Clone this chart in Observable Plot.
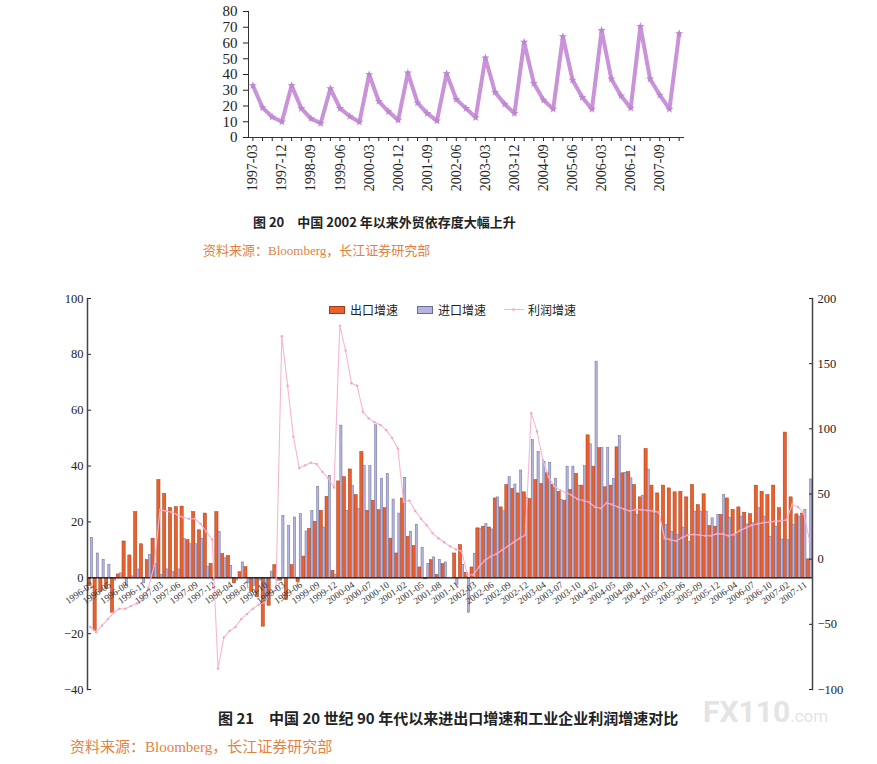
<!DOCTYPE html>
<html><head><meta charset="utf-8">
<script src="https://cdn.jsdelivr.net/npm/d3@7"></script>
<script src="https://cdn.jsdelivr.net/npm/@observablehq/plot@0.6"></script>
<style>
body{margin:0;background:#fff;width:877px;height:764px;position:relative;overflow:hidden;font-family:"Liberation Serif","Noto Sans CJK SC",serif;}
#top{position:absolute;left:0;top:0;}
#bottom{position:absolute;left:0;top:285px;}
.cap{position:absolute;font-family:"Noto Sans CJK SC",sans-serif;font-weight:bold;color:#222;white-space:nowrap;line-height:1;}
.src{position:absolute;color:#e3823f;white-space:nowrap;line-height:1;font-family:"Liberation Serif","Noto Sans CJK SC",serif;}
.leg{position:absolute;top:303px;font-family:"Noto Sans CJK SC",sans-serif;font-size:12px;line-height:14px;color:#222;white-space:nowrap;}
.sw{position:absolute;top:306px;width:16px;height:8px;box-sizing:border-box;}
.wm{position:absolute;color:#e4e4e4;font-family:Roboto,sans-serif;font-weight:bold;white-space:nowrap;line-height:1;}
</style></head><body>
<div id="top"></div>
<div class="cap" style="left:253px;top:215px;font-size:13px">图 20　中国 2002 年以来外贸依存度大幅上升</div>
<div class="src" style="left:203px;top:244px;font-size:13px">资料来源：Bloomberg，长江证券研究部</div>
<div id="bottom"></div>
<div class="sw" style="left:329px;background:#ee5f2b;border:1px solid #9c3f18"></div>
<div class="leg" style="left:350px">出口增速</div>
<div class="sw" style="left:417px;background:#b4b4de;border:1px solid #6c6c98"></div>
<div class="leg" style="left:438px">进口增速</div>
<div style="position:absolute;left:504px;top:309px;width:20px;height:1.2px;background:#f7b6d2"></div>
<div style="position:absolute;left:512px;top:308px;width:3px;height:3px;border-radius:2px;background:#f7b6d2"></div>
<div class="leg" style="left:528px">利润增速</div>
<div class="wm" style="left:703px;top:697px;font-size:30px">FX110<span style="font-size:17px;font-weight:normal">.com</span></div>
<div class="cap" style="left:218px;top:710px;font-size:15px">图 21　中国 20 世纪 90 年代以来进出口增速和工业企业利润增速对比</div>
<div class="src" style="left:70px;top:740px;font-size:15px">资料来源：Bloomberg，长江证券研究部</div>
<script>
// ---------- Figure 20: foreign trade dependency (quarterly) ----------
const quarters = ["1997-03","1997-06","1997-09","1997-12","1998-03","1998-06","1998-09","1998-12",
"1999-03","1999-06","1999-09","1999-12","2000-03","2000-06","2000-09","2000-12",
"2001-03","2001-06","2001-09","2001-12","2002-03","2002-06","2002-09","2002-12",
"2003-03","2003-06","2003-09","2003-12","2004-03","2004-06","2004-09","2004-12",
"2005-03","2005-06","2005-09","2005-12","2006-03","2006-06","2006-09","2006-12",
"2007-03","2007-06","2007-09","2007-12","2008-03"];
const tradeDependency = [33,19,13,10, 33,18.5,12,9, 31,18.5,13.5,9.8, 40,23,16.5,11,
 41,22,15.3,10.6, 40.5,24.2,18.5,12.7, 50.5,28.7,21.2,15.3, 60.5,34.4,23.8,18,
 64,36.5,25.5,18, 68,37.2,26.5,18.7, 70.5,37.2,27,18, 66];
const yTicksTop = [0,10,20,30,40,50,60,70,80];

// ---------- Figure 21: export / import / profit growth ----------
const exportGrowth = [-3,-19,-5,-4,-12.5,1.2,13,8,23.5,12,6.3,14,35,30,25,25.3,25.5,13.5,23.5,17,
23,5,23.5,8.5,7.8,-2,2,3.8,-5,-7,-17.5,-10,4.5,-1,-8,4.5,-1.5,7.6,17.5,20,
24,29,2.5,34.5,36,38.8,29.6,45,24,27.6,24.2,24.9,14,8.7,28.4,14.7,11.4,3.7,-0.5,6.3,
1,4.9,0,8.7,11.7,1.8,3.7,17.7,18.3,18,28.4,25.2,33.2,31.8,30.2,30.6,28.2,35,33.6,37.4,
33.2,30.8,27.6,31.4,37.2,33,51,39.8,46.4,32.4,33,46.7,37.4,37.8,33.2,28.8,46.1,33,30.2,33,
32,30.6,30.8,28.8,33.2,26,29.9,18.5,18.3,22.5,28.4,24.3,25.2,23.3,22.8,33,30.8,29.6,33,24.9,
52,28.8,22.7,23,6.6];
const importGrowth = [14.3,8.7,6.5,4.7,-1,1.6,-3,0.5,3,-2,8.2,5,1,3,2,3,13.8,12,12,14,
4,-1,16.5,7,4.3,-1,5.5,-2,-3,-1,-7,2.2,-1,22.2,18.5,21.6,22.8,16.6,24,32.5,
18,36.5,1,54.5,24,32.9,24.6,40,40,54.6,35.5,37.2,28,23,35.8,16.5,19,10.7,5,7.3,
6.4,5.5,0,-2.5,4.6,-12.5,8.6,17.6,19.2,17.3,28.8,23.8,36,33.4,38.4,28.7,49.3,45,41.5,41.2,
35.5,27.8,39.8,39.8,33,40,47.8,77.4,46.4,46.4,35.4,50.8,37.6,35.6,22.5,29.4,38.7,23,0,18.9,
16.4,15.3,18,12.9,23.7,23.7,23.7,21.3,22.5,29.6,21.5,15.3,21.9,19.1,19.5,24.9,21.9,14.7,18.3,13.7,
13.5,18.9,21.9,24.3,35.2];
const profitGrowth = [-52,-56,-51,-46,-41,-38,-38,-36,-34,-31,-22,-5,38,37,36,34,32,31,31,27,
21,15,-84,-60,-55,-52,-46,-42,-38,-35,-33,-28,-22,171,133,94,70,72,74,73,
67,62,55,179,160,135,133,113,108,105,103,99,93,85,44,45,37,31,26,20,
16,13,10,7.5,6,-12,-12,-6,-1,2,4,7,10,13,16,18.5,112,98,76,63,
56,53,51,49,46,45,43.7,40,39,43,42,40,38.5,37,38,38,37.4,37,36,16,
15,14,16.5,18.5,19,18.5,18,18,19.4,19.4,18,19,22,24,26,27,28,28.4,29,29.5,
30,42,40,35,14];
const monthLabels = ["1996-02","1996-05","1996-08","1996-11","1997-03","1997-06","1997-09","1997-12",
"1998-04","1998-07","1998-10","1999-03","1999-06","1999-09","1999-12","2000-04","2000-07","2000-10",
"2001-02","2001-05","2001-08","2001-11","2002-03","2002-06","2002-09","2002-12","2003-04","2003-07",
"2003-10","2004-02","2004-05","2004-08","2004-11","2005-03","2005-06","2005-09","2005-12","2006-04",
"2006-07","2006-10","2007-02","2007-11"];
const leftTicks = [-40,-20,0,20,40,60,80,100];
const rightTicks = [-100,-50,0,50,100,150,200];

// ---------- draw figure 20 ----------
const topData = quarters.map((q,i)=>({q, v: tradeDependency[i]}));
const topPlot = Plot.plot({
  width: 877, height: 200, marginLeft: 248, marginRight: 194, marginTop: 11, marginBottom: 63,
  style: {fontFamily: "Liberation Serif", fontSize: "15px", color: "#222", background: "transparent"},
  x: {type: "point", domain: quarters, padding: 0.45, axis: null},
  y: {domain: [0, 80], axis: null},
  marks: [
    Plot.axisY({ticks: yTicksTop, tickSize: 5, tickPadding: 6, fontSize: 15, label: null}),
    Plot.axisX({tickRotate: -90, tickSize: 4, tickPadding: 3, fontSize: 14, label: null,
      tickFormat: d => quarters.indexOf(d) % 3 === 0 ? d : ""}),
    Plot.frame({anchor: "left", stroke: "#333"}),
    Plot.frame({anchor: "bottom", stroke: "#333"}),
    Plot.line(topData, {x: "q", y: "v", stroke: "#c992d9", strokeWidth: 4}),
    Plot.dot(topData, {x: "q", y: "v", symbol: "star", r: 2.6, fill: "#bd86d0"})
  ]
});
document.getElementById("top").append(topPlot);

// ---------- draw figure 21 ----------
const N = exportGrowth.length;
const idx = d3.range(N);
const r2l = d3.scaleLinear([-100, 200], [-40, 100]);
const fmt = v => { const r = Math.round(v); return r < 0 ? "\u2212" + (-r) : String(r); };
const labelIdx = monthLabels.map((_, k) => k * 3);
const botPlot = Plot.plot({
  width: 877, height: 415, marginLeft: 87, marginRight: 65, marginTop: 13, marginBottom: 11,
  style: {fontFamily: "Liberation Serif", fontSize: "12.5px", color: "#222", background: "transparent"},
  x: {type: "band", domain: idx, paddingInner: 0, paddingOuter: 0, axis: null},
  y: {domain: [-40, 100], axis: null},
  marks: [
    Plot.barY(idx, {x: d => d, y: i => exportGrowth[i], fill: "#ee5f2b", stroke: "#9c3f18", strokeWidth: 0.5, insetLeft: 0.2, insetRight: 2.4}),
    Plot.barY(idx, {x: d => d, y: i => importGrowth[i], fill: "#b4b4de", stroke: "#6c6c98", strokeWidth: 0.5, insetLeft: 3.4, insetRight: 0.2}),
    Plot.ruleY([0], {stroke: "#111", strokeWidth: 1.3}),
    Plot.line(idx, {x: d => d, y: i => r2l(profitGrowth[i]), stroke: "#f7b6d2", strokeWidth: 1.1}),
    Plot.dot(idx, {x: d => d, y: i => r2l(profitGrowth[i]), r: 1.2, fill: "#f4a3c6"}),
    Plot.axisY({anchor: "left", ticks: leftTicks, tickSize: -4, tickPadding: 8, label: null, tickFormat: fmt}),
    Plot.axisY({anchor: "right", ticks: rightTicks.map(r2l), tickSize: -4, tickPadding: 9, label: null,
      tickFormat: v => fmt(r2l.invert(v))}),
    Plot.frame({anchor: "left", stroke: "#444", strokeWidth: 1.5}),
    Plot.frame({anchor: "right", stroke: "#444", strokeWidth: 1.5}),
    Plot.text(labelIdx, {x: d => d, y: () => 0, text: (d, k) => monthLabels[k], rotate: -35,
      textAnchor: "end", dy: 6, dx: 2, fontSize: 9.5, fill: "#333"})
  ]
});
document.getElementById("bottom").append(botPlot);
</script>
</body></html>
